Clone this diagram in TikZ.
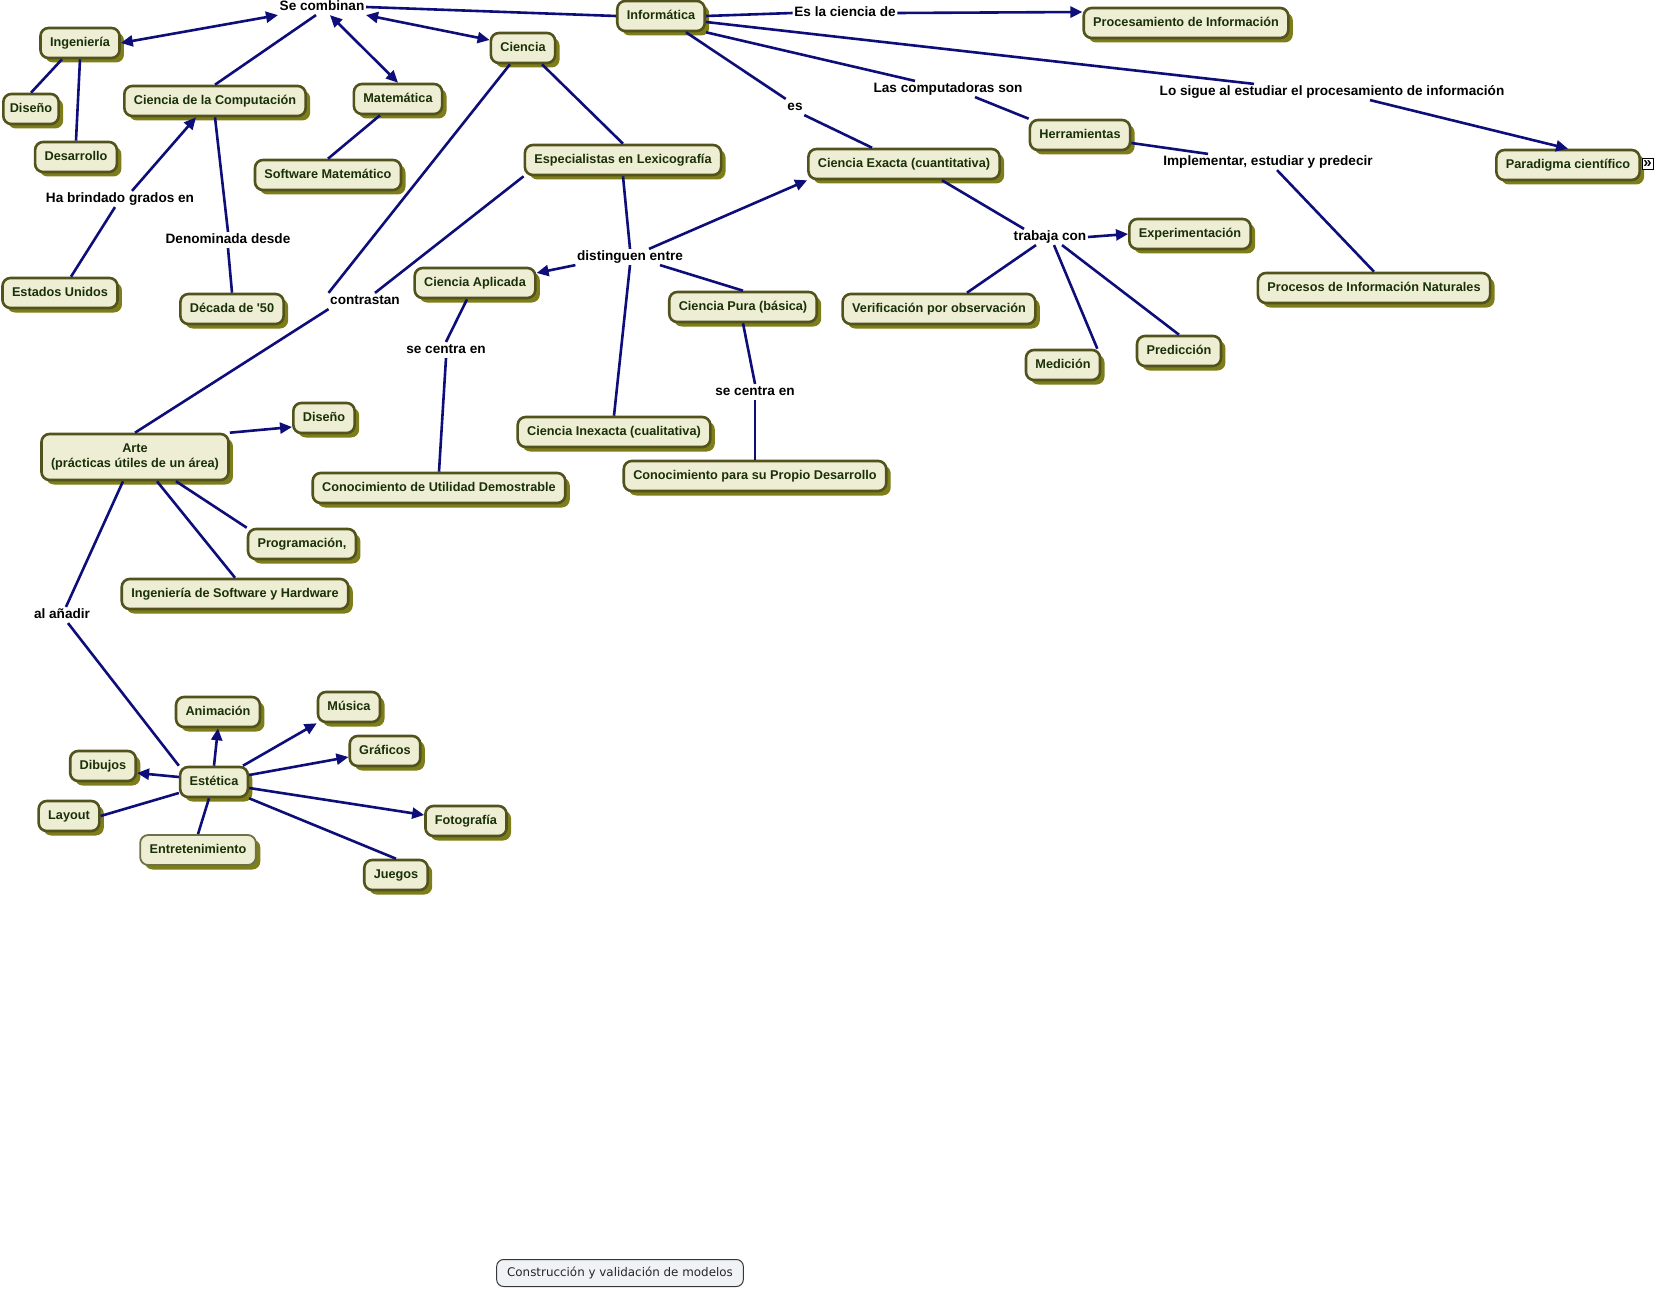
\documentclass[tikz,border=0pt]{standalone}
\usepackage{fontspec}
\usepackage{tikz}
\usetikzlibrary{arrows.meta,shadows}
\newfontfamily\cmapfont{Liberation Sans}
\newfontfamily\verdfont{DejaVu Sans}
\definecolor{cmfill}{RGB}{238,238,212}
\definecolor{cmborder}{RGB}{82,82,28}
\definecolor{cmlight}{RGB}{110,112,72}
\definecolor{cmshadow}{RGB}{125,125,25}
\definecolor{cmtext}{RGB}{25,48,8}
\definecolor{cmline}{RGB}{14,14,122}
\definecolor{modfill}{RGB}{240,243,245}
\definecolor{modborder}{RGB}{55,55,55}

\tikzset{
  cbox/.style={rounded corners=8pt, draw=cmborder, line width=2.6pt, fill=cmfill, text=cmtext,
    font=\cmapfont\bfseries\fontsize{12.7}{15}\selectfont, inner xsep=9.5pt, inner ysep=3pt,
    minimum height=30pt,
    general shadow={fill=cmshadow, shadow xshift=4.5pt, shadow yshift=-4.5pt}},
  concept/.style={cbox, text height=9.3pt, text depth=2.6pt},
  phrase/.style={font=\cmapfont\bfseries\fontsize{13.6}{16}\selectfont, text=black,
    inner sep=1.5pt, text height=10pt, text depth=2.8pt},
  link/.style={draw=cmline, line width=2.6pt},
  arrowlink/.style={link, -{Triangle[length=12pt,width=11pt]}},
  bothlink/.style={link, {Triangle[length=12pt,width=11pt]}-{Triangle[length=12pt,width=11pt]}},
}

\begin{document}
\begin{tikzpicture}[x=1pt,y=-1pt]
    \useasboundingbox (0,0) rectangle (1654,1289);

    % concepts
    \foreach \nm/\x/\y/\txt in {
        informatica/661/16/Informática,
        procesamiento/1186/23/{Procesamiento de Información},
        ingenieria/80/43/Ingeniería,
        desarrollo/76/157/Desarrollo,
        compu/215/101/{Ciencia de la Computación},
        matematica/398/99/Matemática,
        softmat/328/175/{Software Matemático},
        ciencia/523/48/Ciencia,
        lexico/623/160/{Especialistas en Lexicografía},
        eeuu/60/293/{Estados Unidos},
        decada/232/309/{Década de '50},
        aplicada/475/283/{Ciencia Aplicada},
        pura/743/307/{Ciencia Pura (básica)},
        exacta/904/164/{Ciencia Exacta (cuantitativa)},
        herramientas/1080/135/Herramientas,
        paradigma/1568/165/{Paradigma científico},
        experimentacion/1190/234/Experimentación,
        procesos/1374/288/{Procesos de Información Naturales},
        verificacion/939/309/{Verificación por observación},
        medicion/1063/365/Medición,
        prediccion/1179/351/Predicción,
        inexacta/614/432/{Ciencia Inexacta (cualitativa)},
        propio/755/476/{Conocimiento para su Propio Desarrollo},
        utilidad/439/488/{Conocimiento de Utilidad Demostrable},
        diseno2/324/418/Diseño,
        programacion/302/544/{Programación,},
        ingsw/235/594/{Ingeniería de Software y Hardware},
        animacion/218/712/Animación,
        musica/349/707/Música,
        graficos/385/751/Gráficos,
        dibujos/103/766/Dibujos,
        estetica/214/782/Estética,
        layout/69/816/Layout,
        fotografia/466/821/Fotografía,
        juegos/396/875/Juegos}
        \node[concept] (\nm) at (\x,\y) {\txt};
    \node[concept, inner xsep=6.5pt] (diseno1) at (31,109) {Diseño};
    \node[cbox, align=center, minimum height=46pt] (arte) at (135,457)
        {Arte\\(prácticas útiles de un área)};
    \node[concept, draw=cmlight, line width=1.8pt] (entretenimiento) at (198,850) {Entretenimiento};
    \node[draw=black, fill=white, line width=0.7pt, inner sep=0pt, minimum size=11pt,
        font=\cmapfont\bfseries\fontsize{15}{15}\selectfont] (anidado) at (1647.5,164)
        {\raisebox{-0.5pt}{»}};
    \node[rounded corners=7pt, draw=modborder, line width=1pt, fill=modfill, text=black!85,
        font=\verdfont\fontsize{11.9}{14}\selectfont, inner xsep=10.5pt, minimum height=27pt]
        (modelos) at (620,1273) {Construcción y validación de modelos};

    % linking phrases
    \foreach \nm/\x/\y/\txt in {
        combinan/322/7/{Se combinan},
        cienciade/845/13/{Es la ciencia de},
        brindado/120/199/{Ha brindado grados en},
        denominada/228/240/{Denominada desde},
        contrastan/365/301/contrastan,
        distinguen/630/257/{distinguen entre},
        computadoras/948/89/{Las computadoras son},
        es/795/107/es,
        sigue/1332/92/{Lo sigue al estudiar el procesamiento de información},
        implementar/1268/162/{Implementar, estudiar y predecir},
        trabaja/1050/237/{trabaja con},
        centrauno/446/350/{se centra en},
        centrados/755/392/{se centra en},
        anadir/62/615/{al añadir}}
        \node[phrase] (\nm) at (\x,\y) {\txt};

    % Se combinan
    \draw[link] (informatica.west) -- (combinan.east);
    \draw[bothlink] (combinan.south west) -- (ingenieria.east);
    \draw[link] ([xshift=-6pt]combinan.south) -- (compu.north);
    \draw[bothlink] ([xshift=8pt]combinan.south) -- (matematica.north);
    \draw[bothlink] (combinan.south east) -- ([yshift=8pt]ciencia.west);
    \draw[link] ([xshift=-18pt]ingenieria.south) -- (diseno1.north);
    \draw[link] (ingenieria.south) -- (desarrollo.north);
    \draw[link] ([xshift=-18pt]matematica.south) -- (softmat.north);
    \draw[link] ([xshift=11pt]eeuu.north) -- ([xshift=-5pt]brindado.south);
    \draw[arrowlink] ([xshift=12pt]brindado.north) -- ([xshift=-19pt]compu.south);
    \draw[link] (compu.south) -- (denominada.north);
    \draw[link] (denominada.south) -- (decada.north);

    % Ciencia
    \draw[link] ([xshift=-13pt]ciencia.south) -- (contrastan.north west);
    \draw[link] (lexico.south west) -- ([xshift=10pt]contrastan.north);
    \draw[link] (contrastan.south west) -- (arte.north);
    \draw[link] ([xshift=19pt]ciencia.south) -- (lexico.north);
    \draw[link] (lexico.south) -- (distinguen.north);
    \draw[arrowlink] ([xshift=19pt]distinguen.north) -- (exacta.south west);
    \draw[arrowlink] (distinguen.south west) -- ([yshift=10pt]aplicada.east);
    \draw[link] ([xshift=30pt]distinguen.south) -- (pura.north);
    \draw[link] (distinguen.south) -- (inexacta.north);
    \draw[link] ([xshift=-8pt]aplicada.south) -- (centrauno.north);
    \draw[link] (centrauno.south) -- (utilidad.north);
    \draw[link] (pura.south) -- (centrados.north);
    \draw[link] (centrados.south) -- (propio.north);

    % Informatica
    \draw[link] (informatica.east) -- (cienciade.west);
    \draw[arrowlink] (cienciade.east) -- ([yshift=11pt]procesamiento.west);
    \draw[link] ([xshift=25pt]informatica.south) -- (es.north west);
    \draw[link] (es.south east) -- ([xshift=-32pt]exacta.north);
    \draw[link] (informatica.south east) -- ([xshift=-33pt]computadoras.north);
    \draw[link] ([xshift=27pt]computadoras.south) -- (herramientas.north west);
    \draw[link] ([yshift=-6pt]informatica.east) -- ([xshift=-78pt]sigue.north);
    \draw[arrowlink] ([xshift=38pt]sigue.south) -- (paradigma.north);
    \draw[link] ([yshift=-8pt]herramientas.east) -- ([xshift=-60pt]implementar.north);
    \draw[link] ([xshift=9pt]implementar.south) -- (procesos.north);
    \draw[link] ([xshift=38pt]exacta.south) -- ([xshift=-26pt]trabaja.north);
    \draw[arrowlink] (trabaja.east) -- (experimentacion.west);
    \draw[link] ([xshift=-14pt]trabaja.south) -- ([xshift=28pt]verificacion.north);
    \draw[link] ([xshift=4pt]trabaja.south) -- ([xshift=-4pt]medicion.north east);
    \draw[link] ([xshift=12pt]trabaja.south) -- (prediccion.north);

    % Arte y Estetica
    \draw[arrowlink] (arte.north east) -- ([yshift=-9pt]diseno2.west);
    \draw[link] ([xshift=41pt]arte.south) -- (programacion.north west);
    \draw[link] ([xshift=22pt]arte.south) -- (ingsw.north);
    \draw[link] ([xshift=-12pt]arte.south) -- ([xshift=4pt]anadir.north);
    \draw[link] ([xshift=6pt]anadir.south) -- (estetica.north west);
    \draw[arrowlink] (estetica.north) -- (animacion.south);
    \draw[arrowlink] ([xshift=29pt]estetica.north) -- (musica.south west);
    \draw[arrowlink] ([yshift=7pt]estetica.east) -- ([yshift=-6pt]graficos.west);
    \draw[arrowlink] ([yshift=-6pt]estetica.east) -- ([yshift=6pt]fotografia.west);
    \draw[arrowlink] ([yshift=5pt]estetica.west) -- ([yshift=-7pt]dibujos.east);
    \draw[link] (estetica.south east) -- (juegos.north);
    \draw[link] ([xshift=-5pt]estetica.south) -- (entretenimiento.north);
    \draw[link] ([yshift=-11pt]estetica.west) -- (layout.east);
\end{tikzpicture}
\end{document}
